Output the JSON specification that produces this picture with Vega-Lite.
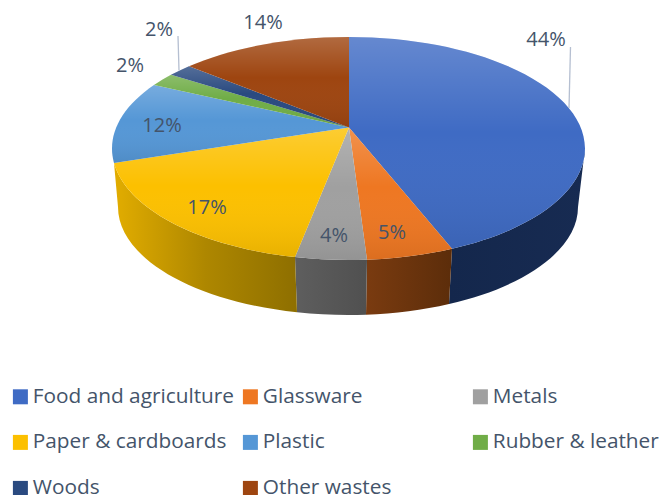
{
  "$schema": "https://vega.github.io/schema/vega-lite/v6.json",
  "width": 660,
  "height": 495,
  "padding": 0,
  "autosize": {"type": "none"},
  "background": "white",
  "config": {"view": {"stroke": null}},
  "data": {"values": [
    {"category": "Food and agriculture", "share": 0.44},
    {"category": "Glassware", "share": 0.05},
    {"category": "Metals", "share": 0.04},
    {"category": "Paper & cardboards", "share": 0.17},
    {"category": "Plastic", "share": 0.12},
    {"category": "Rubber & leather", "share": 0.02},
    {"category": "Woods", "share": 0.02},
    {"category": "Other wastes", "share": 0.14}
  ]},
  "encoding": {
    "x": {"datum": 0, "type": "quantitative", "axis": null, "scale": {"domain": [-349, 311], "nice": false, "zero": false}},
    "y": {"datum": 0, "type": "quantitative", "axis": null, "scale": {"domain": [-127.5, 367.5], "reverse": true, "nice": false, "zero": false}}
  },
  "layer": [
    {
      "transform": [{"filter": "datum.category === 'Food and agriculture'"}],
      "mark": {"type": "point", "filled": true, "size": 4, "opacity": 1,
        "shape": "M103,121.3 A236.5,111.5 0 0 0 236,21 L229,79.5 A230,108 0 0 1 100,176.5 Z",
        "fill": {"gradient": "linear", "x1": 0, "y1": 0, "x2": 1, "y2": 0, "stops": [{"offset": 0, "color": "#14274c"}, {"offset": 1, "color": "#172b52"}]}}
    },
    {
      "transform": [{"filter": "datum.category === 'Glassware'"}],
      "mark": {"type": "point", "filled": true, "size": 4, "opacity": 1,
        "shape": "M18,132.2 A236.5,111.5 0 0 0 103,121.3 L100,176.5 A230,108 0 0 1 17,187.2 Z",
        "fill": {"gradient": "linear", "x1": 0, "y1": 0, "x2": 1, "y2": 0, "stops": [{"offset": 0, "color": "#7a3b10"}, {"offset": 1, "color": "#5c2d0a"}]}}
    },
    {
      "transform": [{"filter": "datum.category === 'Metals'"}],
      "mark": {"type": "point", "filled": true, "size": 4, "opacity": 1,
        "shape": "M-54,129.6 A236.5,111.5 0 0 0 18,132.2 L17,187.2 A230,108 0 0 1 -52,184.8 Z",
        "fill": {"gradient": "linear", "x1": 0, "y1": 0, "x2": 1, "y2": 0, "stops": [{"offset": 0, "color": "#5e5e5e"}, {"offset": 1, "color": "#505050"}]}}
    },
    {
      "transform": [{"filter": "datum.category === 'Paper & cardboards'"}],
      "mark": {"type": "point", "filled": true, "size": 4, "opacity": 1,
        "shape": "M-54,129.6 A236.5,111.5 0 0 1 -235,35.5 L-231,79.5 A230,108 0 0 0 -52,184.8 Z",
        "fill": {"gradient": "linear", "x1": 0, "y1": 0, "x2": 1, "y2": 0, "stops": [{"offset": 0, "color": "#e2ad00"}, {"offset": 0.5, "color": "#ae8700"}, {"offset": 1, "color": "#8e6f00"}]}}
    },
    {
      "mark": {"type": "point", "filled": true, "size": 4, "opacity": 1},
      "encoding": {
        "shape": {"field": "category", "type": "nominal", "legend": null, "scale": {
          "domain": ["Other wastes", "Woods", "Rubber & leather", "Plastic", "Paper & cardboards", "Metals", "Glassware", "Food and agriculture"],
          "range": [
            "M0,0 L-160,-61.3 A236.5,111.5 0 0 1 0,-90.5 Z",
            "M0,0 L-178,-52.7 A236.5,111.5 0 0 1 -160,-61.3 Z",
            "M0,0 L-195,-42.4 A236.5,111.5 0 0 1 -178,-52.7 Z",
            "M0,0 L-235,35.5 A236.5,111.5 0 0 1 -195,-42.4 Z",
            "M0,0 L-54,129.6 A236.5,111.5 0 0 1 -235,35.5 Z",
            "M0,0 L18,132.2 A236.5,111.5 0 0 1 -54,129.6 Z",
            "M0,0 L103,121.3 A236.5,111.5 0 0 1 18,132.2 Z",
            "M0,0 L0,-90.5 A236.5,111.5 0 0 1 236,21 A236.5,111.5 0 0 1 103,121.3 Z"
          ]
        }},
        "fill": {"field": "category", "type": "nominal",
          "scale": {
            "domain": ["Food and agriculture", "Glassware", "Metals", "Paper & cardboards", "Plastic", "Rubber & leather", "Woods", "Other wastes"],
            "range": ["#3f6bc4", "#ee7722", "#a0a0a0", "#fcc000", "#5597d6", "#70ad47", "#2a4a80", "#9e4510"]
          },
          "legend": {
            "title": null,
            "orient": "none",
            "legendX": 10,
            "legendY": 386,
            "direction": "horizontal",
            "columns": 3,
            "gridAlign": "all",
            "symbolType": "square",
            "symbolSize": 225,
            "symbolStrokeWidth": 0,
            "symbolOpacity": 1,
            "labelFont": "Open Sans",
            "labelFontSize": 20.8,
            "labelColor": "#44546a",
            "labelLimit": 300,
            "labelOffset": 2,
            "rowPadding": 24,
            "columnPadding": 5,
            "padding": 0
          }
        }
      }
    },
    {
      "mark": {"type": "point", "filled": true, "size": 4, "opacity": 1,
        "fill": {"gradient": "linear", "x1": 0, "y1": 0, "x2": 0, "y2": 1, "stops": [{"offset": 0, "color": "rgba(255,255,255,0.2)"}, {"offset": 0.45, "color": "rgba(255,255,255,0)"}, {"offset": 1, "color": "rgba(0,0,0,0.08)"}]}},
      "encoding": {
        "shape": {"field": "category", "type": "nominal", "legend": null}
      }
    },
    {
      "transform": [{"filter": "datum.category === 'Food and agriculture'"}],
      "mark": {"type": "point", "filled": false, "size": 4, "opacity": 1, "stroke": "#b5bfd1", "strokeWidth": 1.3, "shape": "M221.5,-80.5 L220,-19.5"}
    },
    {
      "transform": [{"filter": "datum.category === 'Woods'"}],
      "mark": {"type": "point", "filled": false, "size": 4, "opacity": 1, "stroke": "#b5bfd1", "strokeWidth": 1.3, "shape": "M-171,-91.5 L-170,-57"}
    },
    {"transform": [{"filter": "datum.category === 'Food and agriculture'"}], "mark": {"type": "text", "font": "Open Sans", "fontSize": 20, "color": "#44546a", "dx": 197, "dy": -88, "baseline": "middle", "align": "center"}, "encoding": {"text": {"field": "share", "type": "quantitative", "format": ".0%"}}},
    {"transform": [{"filter": "datum.category === 'Glassware'"}], "mark": {"type": "text", "font": "Open Sans", "fontSize": 20, "color": "#44546a", "dx": 43, "dy": 105, "baseline": "middle", "align": "center"}, "encoding": {"text": {"field": "share", "type": "quantitative", "format": ".0%"}}},
    {"transform": [{"filter": "datum.category === 'Metals'"}], "mark": {"type": "text", "font": "Open Sans", "fontSize": 20, "color": "#44546a", "dx": -15, "dy": 108, "baseline": "middle", "align": "center"}, "encoding": {"text": {"field": "share", "type": "quantitative", "format": ".0%"}}},
    {"transform": [{"filter": "datum.category === 'Paper & cardboards'"}], "mark": {"type": "text", "font": "Open Sans", "fontSize": 20, "color": "#44546a", "dx": -142, "dy": 80, "baseline": "middle", "align": "center"}, "encoding": {"text": {"field": "share", "type": "quantitative", "format": ".0%"}}},
    {"transform": [{"filter": "datum.category === 'Plastic'"}], "mark": {"type": "text", "font": "Open Sans", "fontSize": 20, "color": "#44546a", "dx": -187, "dy": -2, "baseline": "middle", "align": "center"}, "encoding": {"text": {"field": "share", "type": "quantitative", "format": ".0%"}}},
    {"transform": [{"filter": "datum.category === 'Rubber & leather'"}], "mark": {"type": "text", "font": "Open Sans", "fontSize": 20, "color": "#44546a", "dx": -219, "dy": -62, "baseline": "middle", "align": "center"}, "encoding": {"text": {"field": "share", "type": "quantitative", "format": ".0%"}}},
    {"transform": [{"filter": "datum.category === 'Woods'"}], "mark": {"type": "text", "font": "Open Sans", "fontSize": 20, "color": "#44546a", "dx": -190, "dy": -98, "baseline": "middle", "align": "center"}, "encoding": {"text": {"field": "share", "type": "quantitative", "format": ".0%"}}},
    {"transform": [{"filter": "datum.category === 'Other wastes'"}], "mark": {"type": "text", "font": "Open Sans", "fontSize": 20, "color": "#44546a", "dx": -86, "dy": -105, "baseline": "middle", "align": "center"}, "encoding": {"text": {"field": "share", "type": "quantitative", "format": ".0%"}}}
  ]
}
